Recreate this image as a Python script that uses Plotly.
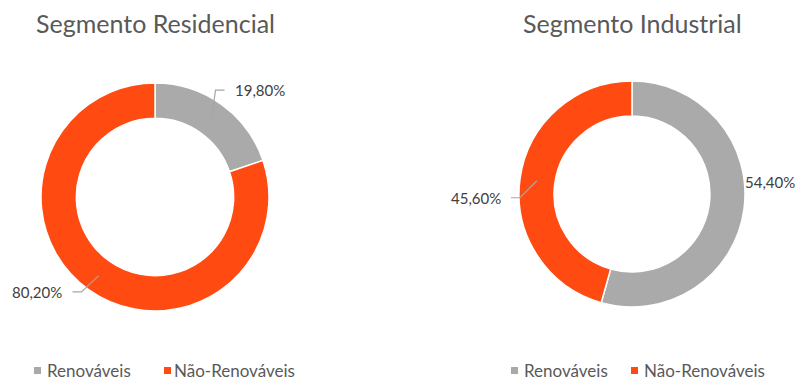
import math
import plotly.graph_objects as go

# The page body has an 8px margin, so the figure starts 8px in from the window's
# top-left corner; size it so that it ends exactly at the window's edge.
PAGE_W, PAGE_H = 803, 380
OFF = 8
W, H = PAGE_W - OFF, PAGE_H - OFF

categories = ["Renováveis", "Não-Renováveis"]
residencial_values = [19.80, 80.20]
industrial_values = [54.40, 45.60]
titles = ["Segmento Residencial", "Segmento Industrial"]
value_labels_res = ["19,80%", "80,20%"]
value_labels_ind = ["54,40%", "45,60%"]

colors = ["#AAAAAA", "#FF4B12"]
text_color = "#404040"
title_color = "#595959"
line_color = "#A6A6A6"
FONT = "Lato, 'Open Sans', sans-serif"


def px(x):
    return (x - OFF) / W


def py(y):
    return 1 - (y - OFF) / H


# layout geometry (window pixels)
# place: (anchor radius, text-edge dx, dy from anchor, side (+1 text right / -1 left), leader line?)
pies = [
    dict(cx=155, cy=197, r=114, values=residencial_values, labels=value_labels_res,
         title=titles[0], legend_sq=[34, 164], legend_tx=[46, 173],
         place=[(97, 22, -28, 1, True), (97, -35, 16, -1, True)]),
    dict(cx=632, cy=194, r=113, values=industrial_values, labels=value_labels_ind,
         title=titles[1], legend_sq=[511, 631], legend_tx=[523, 643],
         place=[(113, 0, -28, 1, False), (96, -35, 17, -1, True)]),
]
hole = 0.69

fig = go.Figure()
annotations = []
shapes = []
for p in pies:
    dom_x = [px(p["cx"] - p["r"]), px(p["cx"] + p["r"])]
    dom_y = [py(p["cy"] + p["r"]), py(p["cy"] - p["r"])]
    fig.add_trace(go.Pie(
        labels=categories, values=p["values"], hole=hole,
        sort=False, direction="clockwise", rotation=0,
        marker=dict(colors=colors, line=dict(color="white", width=1.5)),
        textinfo="none", hoverinfo="label+percent",
        domain=dict(x=dom_x, y=dom_y), showlegend=False,
    ))
    total = sum(p["values"])
    cum = 0
    for v, lab, (rr, dx, dy, side, leader) in zip(p["values"], p["labels"], p["place"]):
        f = (cum + v / 2) / total
        cum += v
        th = 2 * math.pi * f
        axp = p["cx"] + rr * math.sin(th)
        ayp = p["cy"] - rr * math.cos(th)
        tx, ty = axp + dx, ayp + dy
        annotations.append(dict(
            x=px(tx), y=py(ty), xref="paper", yref="paper",
            text=lab, showarrow=False, borderpad=0,
            xanchor="left" if side > 0 else "right", yanchor="middle",
            font=dict(family=FONT, size=15, color=text_color)))
        if leader:
            ex, elx = tx - side * 9, tx - side * 18
            path = (f"M {px(axp)} {py(ayp)} L {px(elx)} {py(ty)} "
                    f"L {px(ex)} {py(ty)}")
            shapes.append(dict(type="path", xref="paper", yref="paper", path=path,
                               line=dict(color=line_color, width=1.2)))
    annotations.append(dict(
        x=px(p["cx"]), y=py(23), xref="paper", yref="paper",
        text=p["title"], showarrow=False, xanchor="center", yanchor="middle",
        borderpad=0,
        font=dict(family=FONT, size=25, color=title_color)))
    # legend entries
    for cat, col, sx, tx in zip(categories, colors, p["legend_sq"], p["legend_tx"]):
        shapes.append(dict(type="rect", xref="paper", yref="paper",
                           x0=px(sx), x1=px(sx + 7), y0=py(374), y1=py(367),
                           fillcolor=col, line=dict(width=0)))
        annotations.append(dict(
            x=px(tx), y=py(370), xref="paper", yref="paper",
            text=cat, showarrow=False, xanchor="left", yanchor="middle",
            borderpad=0,
            font=dict(family=FONT, size=17, color=title_color)))

fig.update_layout(
    width=W, height=H,
    margin=dict(l=0, r=0, t=0, b=0, autoexpand=False),
    paper_bgcolor="white", plot_bgcolor="white",
    showlegend=False,
    annotations=annotations,
    shapes=shapes,
)

fig.write_html("out.html")
